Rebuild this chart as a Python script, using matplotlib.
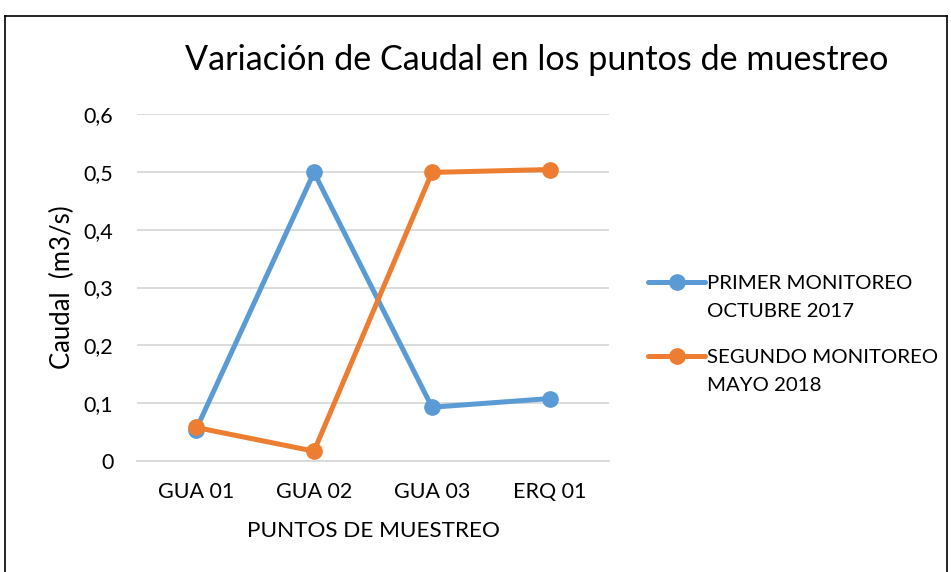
import matplotlib
matplotlib.use("Agg")
import numpy as np
import matplotlib.pyplot as plt
from matplotlib.lines import Line2D
from matplotlib.ticker import FixedLocator
from matplotlib.legend_handler import HandlerLine2D

categories = ["GUA 01", "GUA 02", "GUA 03", "ERQ 01"]
primer = [0.054, 0.499, 0.093, 0.108]
segundo = [0.058, 0.017, 0.499, 0.504]
series_labels = ["PRIMER MONITOREO\nOCTUBRE 2017", "SEGUNDO MONITOREO\nMAYO 2018"]
yticks = [0, 0.1, 0.2, 0.3, 0.4, 0.5, 0.6]
ytick_labels = ["0", "0,1", "0,2", "0,3", "0,4", "0,5", "0,6"]

plt.rcParams['font.family'] = ['Lato', 'DejaVu Sans']

W, H = 951, 572
fig = plt.figure(figsize=(W/100, H/100), dpi=100)
ax = fig.add_axes([137/W, 1-461/H, (609-137)/W, (461-114)/H])

x = list(range(len(categories)))
blue = "#5b9bd5"
orange = "#ed7d31"
l1, = ax.plot(x, primer, color=blue, lw=3.6, marker="o", ms=11, label=series_labels[0],
              solid_capstyle="round", solid_joinstyle="round", zorder=3)
l2, = ax.plot(x, segundo, color=orange, lw=3.6, marker="o", ms=11, label=series_labels[1],
              solid_capstyle="round", solid_joinstyle="round", zorder=4)

ax.set_xlim(-0.5, len(categories)-0.5)
ax.set_ylim(0, 0.6)
ax.yaxis.set_major_locator(FixedLocator(yticks))
ax.set_yticklabels(ytick_labels)
ax.set_xticks(x)
ax.set_xticklabels(categories)
ax.tick_params(axis="both", length=0, labelsize=15.5, colors="#000000")
ax.tick_params(axis="y", pad=17)
ax.tick_params(axis="x", pad=15)
ax.grid(axis="y", color="#d9d9d9", lw=1.3)
ax.set_axisbelow(True)
for s in ax.spines.values():
    s.set_visible(False)
ax.spines["bottom"].set_visible(True)
ax.spines["bottom"].set_color("#d9d9d9")
ax.spines["bottom"].set_linewidth(1.3)

ax.set_xlabel("PUNTOS DE MUESTREO", fontsize=16.2, labelpad=14)
ax.set_ylabel("Caudal  (m3/s)", fontsize=18.5, labelpad=6)

fig.text(537/W, 1-60/H, "Variación de Caudal en los puntos de muestreo", fontsize=24.6, ha="center", va="center")


class UpHandler(HandlerLine2D):
    def create_artists(self, legend, orig_handle, xdescent, ydescent, width, height, fontsize, trans):
        arts = super().create_artists(legend, orig_handle, xdescent, ydescent, width, height, fontsize, trans)
        for a in arts:
            a.set_ydata(np.asarray(a.get_ydata()) + 0.75 * fontsize)
        return arts


leg_fs = 14.7
leg = fig.legend(handles=[l1, l2], loc="upper left", bbox_to_anchor=(648/W, 1-275/H),
                 frameon=False, fontsize=leg_fs, handlelength=2.8, labelspacing=1.45,
                 handletextpad=0.1, borderpad=0, borderaxespad=0,
                 handler_map={Line2D: UpHandler()})
for t in leg.get_texts():
    t.set_linespacing(1.75)

# outer border
c = "#000000"
fig.add_artist(Line2D([5/W, 5/W], [0, 1-16/H], transform=fig.transFigure, color=c, lw=1.2))
fig.add_artist(Line2D([5/W, 947/W], [1-16/H, 1-16/H], transform=fig.transFigure, color=c, lw=1.2))
fig.add_artist(Line2D([947/W, 947/W], [0, 1-16/H], transform=fig.transFigure, color=c, lw=1.2))

fig.savefig("out.png", dpi=100)
